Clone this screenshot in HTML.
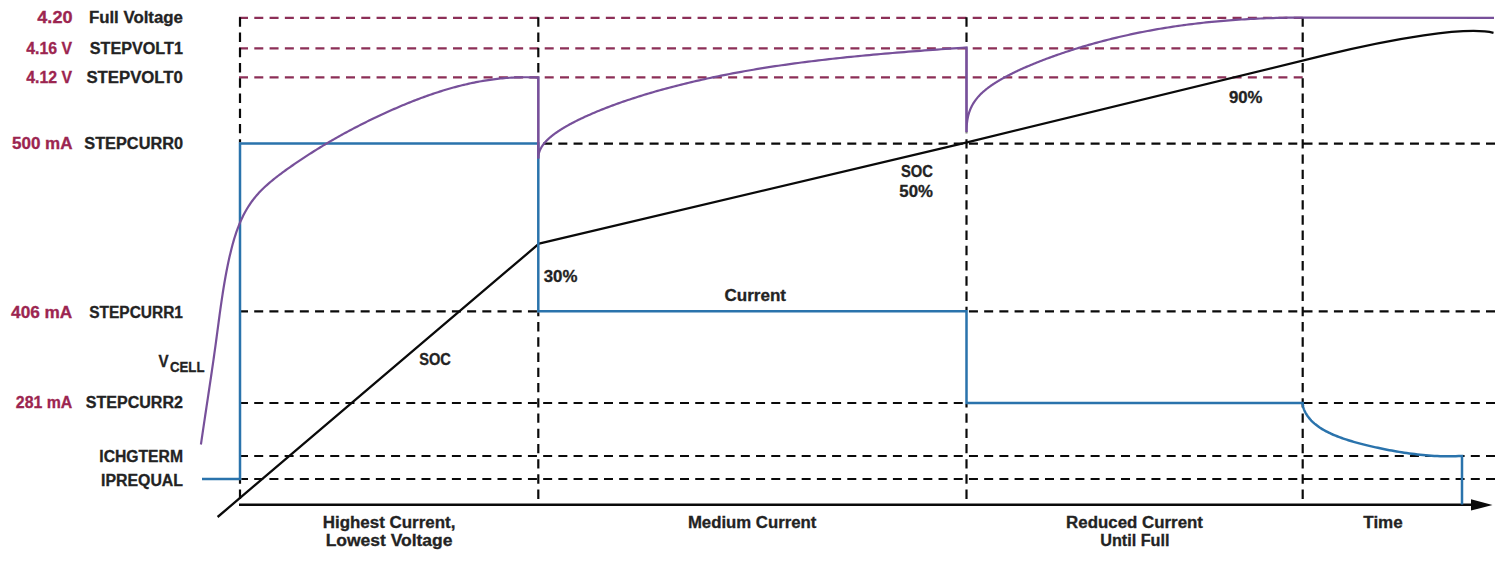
<!DOCTYPE html>
<html><head><meta charset="utf-8">
<style>
html,body{margin:0;padding:0;background:#fff;}
body{width:1506px;height:561px;overflow:hidden;}
svg{display:block;}
text{font-family:"Liberation Sans",sans-serif;font-weight:bold;}
</style></head><body>
<svg width="1506" height="561" viewBox="0 0 1506 561">
<rect width="1506" height="561" fill="#fff"/>
<path d="M239.00,17.8H248.00 M254.29,17.8H263.29 M269.57,17.8H278.57 M284.86,17.8H293.86 M300.14,17.8H309.14 M315.43,17.8H324.43 M330.71,17.8H339.71 M346.00,17.8H355.00 M361.28,17.8H370.28 M376.57,17.8H385.57 M391.86,17.8H400.86 M407.14,17.8H416.14 M422.43,17.8H431.43 M437.71,17.8H446.71 M453.00,17.8H462.00 M468.28,17.8H477.28 M483.57,17.8H492.57 M498.85,17.8H507.85 M514.14,17.8H523.14 M529.42,17.8H538.42 M544.71,17.8H553.71 M560.00,17.8H569.00 M575.28,17.8H584.28 M590.57,17.8H599.57 M605.85,17.8H614.85 M621.14,17.8H630.14 M636.42,17.8H645.42 M651.71,17.8H660.71 M666.99,17.8H675.99 M682.28,17.8H691.28 M697.57,17.8H706.57 M712.85,17.8H721.85 M728.14,17.8H737.14 M743.42,17.8H752.42 M758.71,17.8H767.71 M773.99,17.8H782.99 M789.28,17.8H798.28 M804.56,17.8H813.56 M819.85,17.8H828.85 M835.13,17.8H844.13 M850.42,17.8H859.42 M865.71,17.8H874.71 M880.99,17.8H889.99 M896.28,17.8H905.28 M911.56,17.8H920.56 M926.85,17.8H935.85 M942.13,17.8H951.13 M957.42,17.8H966.42 M972.70,17.8H981.70 M987.99,17.8H996.99 M1003.28,17.8H1012.28 M1018.56,17.8H1027.56 M1033.85,17.8H1042.85 M1049.13,17.8H1058.13 M1064.42,17.8H1073.42 M1079.70,17.8H1088.70 M1094.99,17.8H1103.99 M1110.27,17.8H1119.27 M1125.56,17.8H1134.56 M1140.84,17.8H1149.84 M1156.13,17.8H1165.13 M1171.42,17.8H1180.42 M1186.70,17.8H1195.70 M1201.99,17.8H1210.99 M1217.27,17.8H1226.27 M1232.56,17.8H1241.56 M1247.84,17.8H1256.84 M1263.13,17.8H1272.13 M1278.41,17.8H1287.41 M1293.70,17.8H1302.70 M239.00,48.3H248.00 M254.29,48.3H263.29 M269.57,48.3H278.57 M284.86,48.3H293.86 M300.14,48.3H309.14 M315.43,48.3H324.43 M330.71,48.3H339.71 M346.00,48.3H355.00 M361.28,48.3H370.28 M376.57,48.3H385.57 M391.86,48.3H400.86 M407.14,48.3H416.14 M422.43,48.3H431.43 M437.71,48.3H446.71 M453.00,48.3H462.00 M468.28,48.3H477.28 M483.57,48.3H492.57 M498.85,48.3H507.85 M514.14,48.3H523.14 M529.42,48.3H538.42 M544.71,48.3H553.71 M560.00,48.3H569.00 M575.28,48.3H584.28 M590.57,48.3H599.57 M605.85,48.3H614.85 M621.14,48.3H630.14 M636.42,48.3H645.42 M651.71,48.3H660.71 M666.99,48.3H675.99 M682.28,48.3H691.28 M697.57,48.3H706.57 M712.85,48.3H721.85 M728.14,48.3H737.14 M743.42,48.3H752.42 M758.71,48.3H767.71 M773.99,48.3H782.99 M789.28,48.3H798.28 M804.56,48.3H813.56 M819.85,48.3H828.85 M835.13,48.3H844.13 M850.42,48.3H859.42 M865.71,48.3H874.71 M880.99,48.3H889.99 M896.28,48.3H905.28 M911.56,48.3H920.56 M926.85,48.3H935.85 M942.13,48.3H951.13 M957.42,48.3H966.42 M972.70,48.3H981.70 M987.99,48.3H996.99 M1003.28,48.3H1012.28 M1018.56,48.3H1027.56 M1033.85,48.3H1042.85 M1049.13,48.3H1058.13 M1064.42,48.3H1073.42 M1079.70,48.3H1088.70 M1094.99,48.3H1103.99 M1110.27,48.3H1119.27 M1125.56,48.3H1134.56 M1140.84,48.3H1149.84 M1156.13,48.3H1165.13 M1171.42,48.3H1180.42 M1186.70,48.3H1195.70 M1201.99,48.3H1210.99 M1217.27,48.3H1226.27 M1232.56,48.3H1241.56 M1247.84,48.3H1256.84 M1263.13,48.3H1272.13 M1278.41,48.3H1287.41 M1293.70,48.3H1302.70 M239.00,77.4H248.00 M254.29,77.4H263.29 M269.57,77.4H278.57 M284.86,77.4H293.86 M300.14,77.4H309.14 M315.43,77.4H324.43 M330.71,77.4H339.71 M346.00,77.4H355.00 M361.28,77.4H370.28 M376.57,77.4H385.57 M391.86,77.4H400.86 M407.14,77.4H416.14 M422.43,77.4H431.43 M437.71,77.4H446.71 M453.00,77.4H462.00 M468.28,77.4H477.28 M483.57,77.4H492.57 M498.85,77.4H507.85 M514.14,77.4H523.14 M529.42,77.4H538.42 M544.71,77.4H553.71 M560.00,77.4H569.00 M575.28,77.4H584.28 M590.57,77.4H599.57 M605.85,77.4H614.85 M621.14,77.4H630.14 M636.42,77.4H645.42 M651.71,77.4H660.71 M666.99,77.4H675.99 M682.28,77.4H691.28 M697.57,77.4H706.57 M712.85,77.4H721.85 M728.14,77.4H737.14 M743.42,77.4H752.42 M758.71,77.4H767.71 M773.99,77.4H782.99 M789.28,77.4H798.28 M804.56,77.4H813.56 M819.85,77.4H828.85 M835.13,77.4H844.13 M850.42,77.4H859.42 M865.71,77.4H874.71 M880.99,77.4H889.99 M896.28,77.4H905.28 M911.56,77.4H920.56 M926.85,77.4H935.85 M942.13,77.4H951.13 M957.42,77.4H966.42 M972.70,77.4H981.70 M987.99,77.4H996.99 M1003.28,77.4H1012.28 M1018.56,77.4H1027.56 M1033.85,77.4H1042.85 M1049.13,77.4H1058.13 M1064.42,77.4H1073.42 M1079.70,77.4H1088.70 M1094.99,77.4H1103.99 M1110.27,77.4H1119.27 M1125.56,77.4H1134.56 M1140.84,77.4H1149.84 M1156.13,77.4H1165.13 M1171.42,77.4H1180.42 M1186.70,77.4H1195.70 M1201.99,77.4H1210.99 M1217.27,77.4H1226.27 M1232.56,77.4H1241.56 M1247.84,77.4H1256.84 M1263.13,77.4H1272.13 M1278.41,77.4H1287.41 M1293.70,77.4H1302.70" fill="none" stroke="#8C2F57" stroke-width="2.2"/>
<path d="M543.15,143.6H552.15 M558.35,143.6H567.35 M573.56,143.6H582.56 M588.77,143.6H597.77 M603.98,143.6H612.98 M619.18,143.6H628.18 M634.39,143.6H643.39 M649.60,143.6H658.60 M664.80,143.6H673.80 M680.01,143.6H689.01 M695.22,143.6H704.22 M710.43,143.6H719.43 M725.63,143.6H734.63 M740.84,143.6H749.84 M756.05,143.6H765.05 M771.26,143.6H780.26 M786.46,143.6H795.46 M801.67,143.6H810.67 M816.88,143.6H825.88 M832.09,143.6H841.09 M847.29,143.6H856.29 M862.50,143.6H871.50 M877.71,143.6H886.71 M892.91,143.6H901.91 M908.12,143.6H917.12 M923.33,143.6H932.33 M938.54,143.6H947.54 M953.74,143.6H962.74 M968.95,143.6H977.95 M984.16,143.6H993.16 M999.37,143.6H1008.37 M1014.57,143.6H1023.57 M1029.78,143.6H1038.78 M1044.99,143.6H1053.99 M1060.20,143.6H1069.20 M1075.40,143.6H1084.40 M1090.61,143.6H1099.61 M1105.82,143.6H1114.82 M1121.02,143.6H1130.02 M1136.23,143.6H1145.23 M1151.44,143.6H1160.44 M1166.65,143.6H1175.65 M1181.85,143.6H1190.85 M1197.06,143.6H1206.06 M1212.27,143.6H1221.27 M1227.48,143.6H1236.48 M1242.68,143.6H1251.68 M1257.89,143.6H1266.89 M1273.10,143.6H1282.10 M1288.30,143.6H1297.30 M1303.51,143.6H1312.51 M1318.72,143.6H1327.72 M1333.93,143.6H1342.93 M1349.13,143.6H1358.13 M1364.34,143.6H1373.34 M1379.55,143.6H1388.55 M1394.76,143.6H1403.76 M1409.96,143.6H1418.96 M1425.17,143.6H1434.17 M1440.38,143.6H1449.38 M1455.59,143.6H1464.59 M1470.79,143.6H1479.79 M1486.00,143.6H1495.00 M239.00,311.3H248.00 M254.21,311.3H263.21 M269.41,311.3H278.41 M284.62,311.3H293.62 M299.83,311.3H308.83 M315.04,311.3H324.04 M330.24,311.3H339.24 M345.45,311.3H354.45 M360.66,311.3H369.66 M375.87,311.3H384.87 M391.07,311.3H400.07 M406.28,311.3H415.28 M421.49,311.3H430.49 M436.70,311.3H445.70 M451.90,311.3H460.90 M467.11,311.3H476.11 M482.32,311.3H491.32 M497.52,311.3H506.52 M512.73,311.3H521.73 M527.94,311.3H536.94 M968.95,311.3H977.95 M984.16,311.3H993.16 M999.37,311.3H1008.37 M1014.57,311.3H1023.57 M1029.78,311.3H1038.78 M1044.99,311.3H1053.99 M1060.20,311.3H1069.20 M1075.40,311.3H1084.40 M1090.61,311.3H1099.61 M1105.82,311.3H1114.82 M1121.02,311.3H1130.02 M1136.23,311.3H1145.23 M1151.44,311.3H1160.44 M1166.65,311.3H1175.65 M1181.85,311.3H1190.85 M1197.06,311.3H1206.06 M1212.27,311.3H1221.27 M1227.48,311.3H1236.48 M1242.68,311.3H1251.68 M1257.89,311.3H1266.89 M1273.10,311.3H1282.10 M1288.30,311.3H1297.30 M1303.51,311.3H1312.51 M1318.72,311.3H1327.72 M1333.93,311.3H1342.93 M1349.13,311.3H1358.13 M1364.34,311.3H1373.34 M1379.55,311.3H1388.55 M1394.76,311.3H1403.76 M1409.96,311.3H1418.96 M1425.17,311.3H1434.17 M1440.38,311.3H1449.38 M1455.59,311.3H1464.59 M1470.79,311.3H1479.79 M1486.00,311.3H1495.00 M239.00,403H248.00 M254.21,403H263.21 M269.41,403H278.41 M284.62,403H293.62 M299.83,403H308.83 M315.04,403H324.04 M330.24,403H339.24 M345.45,403H354.45 M360.66,403H369.66 M375.87,403H384.87 M391.07,403H400.07 M406.28,403H415.28 M421.49,403H430.49 M436.70,403H445.70 M451.90,403H460.90 M467.11,403H476.11 M482.32,403H491.32 M497.52,403H506.52 M512.73,403H521.73 M527.94,403H536.94 M543.15,403H552.15 M558.35,403H567.35 M573.56,403H582.56 M588.77,403H597.77 M603.98,403H612.98 M619.18,403H628.18 M634.39,403H643.39 M649.60,403H658.60 M664.80,403H673.80 M680.01,403H689.01 M695.22,403H704.22 M710.43,403H719.43 M725.63,403H734.63 M740.84,403H749.84 M756.05,403H765.05 M771.26,403H780.26 M786.46,403H795.46 M801.67,403H810.67 M816.88,403H825.88 M832.09,403H841.09 M847.29,403H856.29 M862.50,403H871.50 M877.71,403H886.71 M892.91,403H901.91 M908.12,403H917.12 M923.33,403H932.33 M938.54,403H947.54 M953.74,403H962.74 M1303.51,403H1312.51 M1318.72,403H1327.72 M1333.93,403H1342.93 M1349.13,403H1358.13 M1364.34,403H1373.34 M1379.55,403H1388.55 M1394.76,403H1403.76 M1409.96,403H1418.96 M1425.17,403H1434.17 M1440.38,403H1449.38 M1455.59,403H1464.59 M1470.79,403H1479.79 M1486.00,403H1495.00 M239.00,456H248.00 M254.21,456H263.21 M269.41,456H278.41 M284.62,456H293.62 M299.83,456H308.83 M315.04,456H324.04 M330.24,456H339.24 M345.45,456H354.45 M360.66,456H369.66 M375.87,456H384.87 M391.07,456H400.07 M406.28,456H415.28 M421.49,456H430.49 M436.70,456H445.70 M451.90,456H460.90 M467.11,456H476.11 M482.32,456H491.32 M497.52,456H506.52 M512.73,456H521.73 M527.94,456H536.94 M543.15,456H552.15 M558.35,456H567.35 M573.56,456H582.56 M588.77,456H597.77 M603.98,456H612.98 M619.18,456H628.18 M634.39,456H643.39 M649.60,456H658.60 M664.80,456H673.80 M680.01,456H689.01 M695.22,456H704.22 M710.43,456H719.43 M725.63,456H734.63 M740.84,456H749.84 M756.05,456H765.05 M771.26,456H780.26 M786.46,456H795.46 M801.67,456H810.67 M816.88,456H825.88 M832.09,456H841.09 M847.29,456H856.29 M862.50,456H871.50 M877.71,456H886.71 M892.91,456H901.91 M908.12,456H917.12 M923.33,456H932.33 M938.54,456H947.54 M953.74,456H962.74 M968.95,456H977.95 M984.16,456H993.16 M999.37,456H1008.37 M1014.57,456H1023.57 M1029.78,456H1038.78 M1044.99,456H1053.99 M1060.20,456H1069.20 M1075.40,456H1084.40 M1090.61,456H1099.61 M1105.82,456H1114.82 M1121.02,456H1130.02 M1136.23,456H1145.23 M1151.44,456H1160.44 M1166.65,456H1175.65 M1181.85,456H1190.85 M1197.06,456H1206.06 M1212.27,456H1221.27 M1227.48,456H1236.48 M1242.68,456H1251.68 M1257.89,456H1266.89 M1273.10,456H1282.10 M1288.30,456H1297.30 M1303.51,456H1312.51 M1318.72,456H1327.72 M1333.93,456H1342.93 M1349.13,456H1358.13 M1364.34,456H1373.34 M1379.55,456H1388.55 M1394.76,456H1403.76 M1409.96,456H1418.96 M1425.17,456H1434.17 M1440.38,456H1449.38 M1455.59,456H1464.59 M1470.79,456H1479.79 M1486.00,456H1495.00 M241.30,479H248.00 M254.21,479H263.21 M269.41,479H278.41 M284.62,479H293.62 M299.83,479H308.83 M315.04,479H324.04 M330.24,479H339.24 M345.45,479H354.45 M360.66,479H369.66 M375.87,479H384.87 M391.07,479H400.07 M406.28,479H415.28 M421.49,479H430.49 M436.70,479H445.70 M451.90,479H460.90 M467.11,479H476.11 M482.32,479H491.32 M497.52,479H506.52 M512.73,479H521.73 M527.94,479H536.94 M543.15,479H552.15 M558.35,479H567.35 M573.56,479H582.56 M588.77,479H597.77 M603.98,479H612.98 M619.18,479H628.18 M634.39,479H643.39 M649.60,479H658.60 M664.80,479H673.80 M680.01,479H689.01 M695.22,479H704.22 M710.43,479H719.43 M725.63,479H734.63 M740.84,479H749.84 M756.05,479H765.05 M771.26,479H780.26 M786.46,479H795.46 M801.67,479H810.67 M816.88,479H825.88 M832.09,479H841.09 M847.29,479H856.29 M862.50,479H871.50 M877.71,479H886.71 M892.91,479H901.91 M908.12,479H917.12 M923.33,479H932.33 M938.54,479H947.54 M953.74,479H962.74 M968.95,479H977.95 M984.16,479H993.16 M999.37,479H1008.37 M1014.57,479H1023.57 M1029.78,479H1038.78 M1044.99,479H1053.99 M1060.20,479H1069.20 M1075.40,479H1084.40 M1090.61,479H1099.61 M1105.82,479H1114.82 M1121.02,479H1130.02 M1136.23,479H1145.23 M1151.44,479H1160.44 M1166.65,479H1175.65 M1181.85,479H1190.85 M1197.06,479H1206.06 M1212.27,479H1221.27 M1227.48,479H1236.48 M1242.68,479H1251.68 M1257.89,479H1266.89 M1273.10,479H1282.10 M1288.30,479H1297.30 M1303.51,479H1312.51 M1318.72,479H1327.72 M1333.93,479H1342.93 M1349.13,479H1358.13 M1364.34,479H1373.34 M1379.55,479H1388.55 M1394.76,479H1403.76 M1409.96,479H1418.96 M1425.17,479H1434.17 M1440.38,479H1449.38 M1455.59,479H1464.59 M1470.79,479H1479.79 M1486.00,479H1495.00 M240,17.30V26.70 M240,32.54V41.94 M240,47.77V57.17 M240,63.01V72.41 M240,78.24V87.64 M240,93.48V102.88 M240,108.71V118.11 M240,123.95V133.35 M240,139.18V142.50 M240,480.00V483.76 M240,489.60V499.00 M538.3,17.30V26.70 M538.3,32.54V41.94 M538.3,47.77V57.17 M538.3,63.01V72.41 M538.3,312.30V316.17 M538.3,322.01V331.41 M538.3,337.25V346.65 M538.3,352.48V361.88 M538.3,367.72V377.12 M538.3,382.95V392.35 M538.3,398.19V407.59 M538.3,413.42V422.82 M538.3,428.66V438.06 M538.3,443.89V453.29 M538.3,459.13V468.53 M538.3,474.36V483.76 M538.3,489.60V499.00 M966.5,17.30V26.70 M966.5,32.54V41.94 M966.5,132.50V133.35 M966.5,139.18V148.58 M966.5,154.42V163.82 M966.5,169.65V179.05 M966.5,184.89V194.29 M966.5,200.13V209.53 M966.5,215.36V224.76 M966.5,230.60V240.00 M966.5,245.83V255.23 M966.5,261.07V270.47 M966.5,276.30V285.70 M966.5,291.54V300.94 M966.5,306.77V310.30 M966.5,404.00V407.59 M966.5,413.42V422.82 M966.5,428.66V438.06 M966.5,443.89V453.29 M966.5,459.13V468.53 M966.5,474.36V483.76 M966.5,489.60V499.00 M1302.7,17.30V26.70 M1302.7,32.54V41.94 M1302.7,47.77V57.17 M1302.7,63.01V72.41 M1302.7,78.24V87.64 M1302.7,93.48V102.88 M1302.7,108.71V118.11 M1302.7,123.95V133.35 M1302.7,139.18V148.58 M1302.7,154.42V163.82 M1302.7,169.65V179.05 M1302.7,184.89V194.29 M1302.7,200.13V209.53 M1302.7,215.36V224.76 M1302.7,230.60V240.00 M1302.7,245.83V255.23 M1302.7,261.07V270.47 M1302.7,276.30V285.70 M1302.7,291.54V300.94 M1302.7,306.77V316.17 M1302.7,322.01V331.41 M1302.7,337.25V346.65 M1302.7,352.48V361.88 M1302.7,367.72V377.12 M1302.7,382.95V392.35 M1302.7,398.19V407.59 M1302.7,413.42V422.82 M1302.7,428.66V438.06 M1302.7,443.89V453.29 M1302.7,459.13V468.53 M1302.7,474.36V483.76 M1302.7,489.60V499.00" fill="none" stroke="#0A0A0A" stroke-width="2.2"/>
<path d="M239,504.8 H1474" fill="none" stroke="#0A0A0A" stroke-width="2.4"/>
<polygon points="1471,499.2 1492.5,505 1471,510.6" fill="#0A0A0A"/>
<path d="M217.6,517 L539,243.7 L966,142.6 L1325.00,55.18 C1390.85,39.15 1466.17,25.93 1493.50,32.80" fill="none" stroke="#0A0A0A" stroke-width="2.3" stroke-linejoin="round"/>
<path d="M202,479 L240,479 L240,143.6 L538.3,143.6 L538.3,311.3 L966.5,311.3 L966.5,403 L1302.70,403.00 1302.72,403.62 1302.77,404.26 1302.85,404.93 1302.96,405.62 1303.11,406.33 1303.29,407.06 1303.50,407.81 1303.74,408.57 1304.02,409.34 1304.33,410.12 1304.67,410.91 1305.04,411.71 1305.45,412.51 1305.89,413.32 1306.36,414.12 1306.86,414.93 1307.40,415.74 1307.97,416.55 1308.57,417.35 1309.20,418.15 1309.87,418.94 1310.57,419.73 1311.30,420.52 1312.06,421.30 1312.86,422.07 1313.69,422.83 1314.55,423.59 1315.44,424.34 1316.37,425.08 1317.33,425.81 1318.32,426.53 1319.34,427.24 1320.40,427.94 1321.49,428.64 1322.61,429.32 1323.76,430.00 1324.95,430.67 1326.17,431.32 1327.42,431.97 1328.71,432.61 1330.02,433.24 1331.37,433.86 1332.75,434.48 1334.17,435.08 1335.61,435.68 1337.09,436.27 1338.60,436.86 1340.15,437.43 1341.72,438.00 1343.33,438.57 1344.98,439.12 1346.65,439.67 1348.36,440.22 1350.10,440.76 1351.87,441.30 1353.67,441.83 1355.51,442.35 1357.38,442.87 1359.28,443.39 1361.21,443.90 1363.18,444.41 1365.18,444.91 1367.21,445.41 1369.27,445.91 1371.37,446.40 1373.50,446.88 1375.66,447.37 1377.86,447.84 1380.08,448.32 1382.34,448.78 1384.63,449.25 1386.96,449.70 1389.31,450.15 1391.70,450.59 1394.13,451.03 1396.58,451.45 1399.07,451.87 1401.59,452.27 1404.14,452.67 1406.72,453.05 1409.34,453.42 1411.99,453.77 1414.67,454.11 1417.38,454.43 1420.13,454.74 1422.91,455.02 1425.72,455.28 1428.57,455.52 1431.44,455.73 1434.35,455.91 1437.29,456.07 1440.27,456.19 1443.28,456.28 1446.32,456.33 1449.39,456.34 1452.49,456.31 1455.63,456.23 1458.80,456.11 1462.00,456.00 L1462,456 L1462,504.5" fill="none" stroke="#2A73AC" stroke-width="2.5" stroke-linejoin="miter"/>
<path d="M200.90,444.50 201.19,442.68 201.45,440.93 201.70,439.17 201.96,437.42 202.22,435.66 202.48,433.90 202.74,432.15 202.99,430.39 203.26,428.63 203.52,426.86 203.78,425.10 204.04,423.34 204.30,421.58 204.57,419.81 204.83,418.05 205.10,416.28 205.36,414.52 205.63,412.75 205.89,410.98 206.16,409.21 206.43,407.44 206.69,405.67 206.96,403.90 207.23,402.13 207.49,400.36 207.76,398.59 208.02,396.82 208.29,395.05 208.56,393.27 208.82,391.50 209.09,389.73 209.35,387.95 209.62,386.18 209.88,384.41 210.15,382.63 210.41,380.86 210.68,379.08 210.94,377.31 211.20,375.53 211.46,373.75 211.72,371.98 211.98,370.20 212.24,368.43 212.50,366.65 212.76,364.87 213.01,363.10 213.27,361.32 213.52,359.55 213.78,357.77 214.03,355.99 214.28,354.22 214.53,352.44 214.78,350.67 215.03,348.89 215.27,347.11 215.52,345.34 215.76,343.56 216.00,341.79 216.24,340.02 216.48,338.24 216.72,336.47 216.95,334.69 217.19,332.92 217.42,331.15 217.66,329.38 217.90,327.60 218.13,325.83 218.37,324.06 218.60,322.29 218.84,320.52 219.08,318.75 219.32,316.98 219.56,315.21 219.80,313.45 220.04,311.68 220.29,309.91 220.53,308.15 220.78,306.38 221.04,304.62 221.29,302.86 221.55,301.09 221.81,299.33 222.07,297.57 222.34,295.81 222.61,294.05 222.88,292.29 223.16,290.53 223.44,288.78 223.73,287.02 224.02,285.27 224.31,283.51 224.61,281.76 224.92,280.01 225.23,278.26 225.54,276.51 225.86,274.76 226.19,273.01 226.52,271.27 226.86,269.52 227.21,267.78 227.56,266.04 227.92,264.29 228.28,262.55 228.66,260.82 229.04,259.08 229.42,257.34 229.82,255.61 230.22,253.88 230.64,252.15 231.06,250.42 231.49,248.69 231.94,246.97 232.39,245.26 232.86,243.55 233.34,241.84 233.83,240.14 234.34,238.44 234.86,236.76 235.40,235.07 235.95,233.40 236.52,231.73 237.11,230.08 237.72,228.43 238.34,226.79 238.98,225.16 239.64,223.53 240.33,221.92 241.03,220.33 241.75,218.74 242.50,217.16 243.27,215.60 244.06,214.05 244.88,212.51 245.72,210.99 246.58,209.48 247.48,207.98 248.39,206.50 249.34,205.03 250.31,203.58 251.31,202.15 252.34,200.74 253.40,199.34 254.49,197.96 255.61,196.59 256.76,195.25 257.94,193.92 259.14,192.61 260.38,191.31 261.63,190.03 262.91,188.77 264.21,187.52 265.53,186.28 266.88,185.06 268.24,183.85 269.62,182.66 271.01,181.48 272.42,180.31 273.85,179.15 275.29,178.01 276.74,176.87 278.20,175.75 279.67,174.63 281.14,173.53 282.63,172.43 284.12,171.34 285.62,170.26 287.12,169.19 288.62,168.13 290.12,167.07 291.63,166.02 293.13,164.98 294.64,163.94 296.14,162.91 297.65,161.89 299.16,160.87 300.67,159.86 302.18,158.85 303.69,157.85 305.20,156.86 306.71,155.87 308.23,154.89 309.74,153.92 311.26,152.95 312.77,151.99 314.29,151.03 315.81,150.08 317.33,149.14 318.86,148.20 320.38,147.26 321.91,146.33 323.43,145.41 324.96,144.50 326.49,143.58 328.02,142.68 329.56,141.78 331.09,140.88 332.63,139.99 334.17,139.11 335.71,138.23 337.25,137.35 338.80,136.48 340.34,135.62 341.89,134.76 343.44,133.90 344.99,133.06 346.55,132.21 348.11,131.37 349.66,130.53 351.23,129.70 352.79,128.88 354.36,128.06 355.92,127.24 357.50,126.43 359.07,125.62 360.64,124.81 362.22,124.02 363.80,123.22 365.39,122.43 366.97,121.64 368.56,120.86 370.16,120.08 371.75,119.31 373.35,118.54 374.95,117.77 376.55,117.01 378.16,116.25 379.77,115.49 381.38,114.74 383.00,113.99 384.62,113.25 386.24,112.51 387.86,111.77 389.49,111.04 391.12,110.31 392.76,109.59 394.39,108.87 396.03,108.15 397.68,107.44 399.32,106.74 400.97,106.04 402.62,105.35 404.28,104.66 405.93,103.97 407.59,103.29 409.25,102.62 410.92,101.96 412.59,101.30 414.26,100.64 415.93,99.99 417.61,99.35 419.29,98.72 420.97,98.09 422.65,97.46 424.34,96.85 426.03,96.24 427.72,95.64 429.41,95.05 431.11,94.46 432.81,93.88 434.51,93.31 436.21,92.74 437.92,92.19 439.63,91.64 441.34,91.10 443.05,90.57 444.77,90.05 446.48,89.53 448.20,89.02 449.92,88.53 451.65,88.04 453.37,87.56 455.10,87.09 456.83,86.63 458.57,86.18 460.30,85.73 462.04,85.30 463.78,84.88 465.52,84.47 467.26,84.06 469.00,83.67 470.75,83.29 472.50,82.92 474.25,82.56 476.00,82.20 477.76,81.86 479.51,81.54 481.27,81.22 483.03,80.91 484.79,80.62 486.56,80.33 488.32,80.06 490.09,79.80 491.86,79.55 493.63,79.31 495.40,79.09 497.17,78.88 498.94,78.68 500.72,78.49 502.50,78.31 504.28,78.15 506.06,78.00 507.84,77.87 509.62,77.74 511.41,77.63 513.20,77.54 514.98,77.45 516.77,77.38 518.56,77.33 520.36,77.28 522.15,77.26 523.94,77.24 525.74,77.24 527.54,77.26 529.33,77.29 531.13,77.33 532.93,77.39 534.74,77.46 536.54,77.55 538.30,77.50 L538.3,158.4 L538.30,158.40 538.31,157.71 538.34,157.02 538.40,156.34 538.47,155.67 538.57,155.00 538.69,154.33 538.83,153.67 538.99,153.02 539.18,152.37 539.38,151.72 539.61,151.08 539.86,150.44 540.13,149.80 540.42,149.16 540.73,148.53 541.07,147.90 541.42,147.28 541.80,146.65 542.20,146.03 542.63,145.41 543.07,144.79 543.53,144.17 544.02,143.56 544.53,142.94 545.06,142.33 545.61,141.71 546.18,141.10 546.78,140.48 547.39,139.87 548.03,139.26 548.69,138.64 549.37,138.03 550.08,137.42 550.80,136.80 551.55,136.19 552.31,135.57 553.10,134.96 553.91,134.34 554.75,133.72 555.60,133.10 556.48,132.49 557.37,131.87 558.29,131.24 559.23,130.62 560.20,130.00 561.18,129.37 562.19,128.75 563.21,128.12 564.26,127.49 565.33,126.86 566.42,126.23 567.54,125.60 568.67,124.96 569.83,124.33 571.01,123.69 572.21,123.05 573.43,122.41 574.67,121.77 575.94,121.13 577.23,120.48 578.53,119.84 579.86,119.19 581.22,118.55 582.59,117.90 583.98,117.25 585.40,116.59 586.84,115.94 588.30,115.29 589.78,114.63 591.28,113.98 592.81,113.32 594.35,112.66 595.92,112.00 597.51,111.34 599.12,110.68 600.76,110.02 602.41,109.36 604.09,108.70 605.78,108.04 607.50,107.37 609.24,106.71 611.01,106.05 612.79,105.38 614.60,104.72 616.42,104.06 618.27,103.39 620.14,102.73 622.03,102.07 623.95,101.40 625.88,100.74 627.84,100.08 629.82,99.42 631.82,98.76 633.84,98.10 635.89,97.44 637.95,96.78 640.04,96.12 642.15,95.47 644.28,94.81 646.43,94.16 648.60,93.51 650.80,92.86 653.01,92.21 655.25,91.56 657.51,90.92 659.79,90.27 662.10,89.63 664.42,88.99 666.77,88.36 669.14,87.72 671.53,87.09 673.94,86.46 676.37,85.83 678.82,85.21 681.30,84.59 683.80,83.97 686.32,83.35 688.86,82.74 691.42,82.13 694.01,81.53 696.61,80.93 699.24,80.33 701.89,79.73 704.56,79.14 707.25,78.55 709.96,77.97 712.70,77.39 715.46,76.81 718.24,76.24 721.04,75.67 723.86,75.11 726.70,74.55 729.57,73.99 732.46,73.44 735.36,72.89 738.29,72.35 741.25,71.81 744.22,71.28 747.22,70.75 750.23,70.23 753.27,69.71 756.33,69.19 759.41,68.69 762.52,68.18 765.64,67.68 768.79,67.19 771.96,66.70 775.14,66.21 778.36,65.73 781.59,65.26 784.84,64.79 788.12,64.33 791.42,63.87 794.74,63.41 798.08,62.97 801.44,62.52 804.83,62.08 808.23,61.65 811.66,61.22 815.11,60.80 818.58,60.38 822.07,59.97 825.59,59.56 829.12,59.16 832.68,58.76 836.26,58.36 839.86,57.98 843.48,57.59 847.13,57.21 850.79,56.84 854.48,56.47 858.19,56.10 861.92,55.74 865.67,55.38 869.44,55.03 873.24,54.68 877.06,54.34 880.89,54.00 884.75,53.66 888.64,53.33 892.54,53.00 896.47,52.67 900.41,52.35 904.38,52.03 908.37,51.71 912.38,51.40 916.41,51.08 920.47,50.78 924.55,50.47 928.64,50.16 932.76,49.86 936.91,49.56 941.07,49.26 945.25,48.96 949.46,48.66 953.69,48.37 957.94,48.07 962.21,47.77 966.50,47.48 L966.5,132 L966.50,132.00 966.51,130.70 966.53,129.43 966.58,128.19 966.64,126.97 966.71,125.77 966.81,124.60 966.92,123.46 967.04,122.33 967.19,121.23 967.35,120.15 967.53,119.09 967.72,118.05 967.93,117.03 968.16,116.03 968.41,115.05 968.67,114.08 968.95,113.13 969.25,112.20 969.56,111.28 969.90,110.38 970.24,109.49 970.61,108.62 970.99,107.76 971.39,106.92 971.81,106.08 972.24,105.26 972.69,104.45 973.16,103.65 973.64,102.87 974.14,102.09 974.66,101.32 975.19,100.56 975.75,99.81 976.31,99.07 976.90,98.34 977.50,97.61 978.12,96.90 978.76,96.18 979.41,95.48 980.08,94.78 980.77,94.09 981.48,93.41 982.20,92.73 982.94,92.05 983.69,91.38 984.46,90.72 985.25,90.05 986.06,89.40 986.88,88.74 987.72,88.09 988.58,87.45 989.46,86.80 990.35,86.16 991.26,85.52 992.18,84.89 993.12,84.25 994.08,83.62 995.06,82.99 996.05,82.36 997.06,81.74 998.09,81.11 999.13,80.49 1000.20,79.87 1001.27,79.24 1002.37,78.62 1003.48,78.00 1004.61,77.38 1005.76,76.77 1006.92,76.15 1008.10,75.53 1009.30,74.91 1010.51,74.29 1011.74,73.68 1012.99,73.06 1014.25,72.44 1015.54,71.83 1016.84,71.21 1018.15,70.59 1019.48,69.97 1020.83,69.36 1022.20,68.74 1023.58,68.12 1024.99,67.50 1026.40,66.88 1027.84,66.27 1029.29,65.65 1030.76,65.03 1032.24,64.41 1033.75,63.79 1035.27,63.17 1036.80,62.55 1038.36,61.93 1039.93,61.32 1041.51,60.70 1043.12,60.08 1044.74,59.46 1046.38,58.84 1048.03,58.22 1049.71,57.61 1051.40,56.99 1053.10,56.37 1054.83,55.76 1056.57,55.14 1058.32,54.53 1060.10,53.92 1061.89,53.31 1063.70,52.69 1065.52,52.08 1067.37,51.48 1069.23,50.87 1071.10,50.26 1072.99,49.66 1074.90,49.06 1076.83,48.46 1078.78,47.86 1080.74,47.26 1082.72,46.67 1084.71,46.08 1086.72,45.49 1088.75,44.90 1090.80,44.32 1092.86,43.74 1094.94,43.16 1097.04,42.59 1099.15,42.02 1101.28,41.45 1103.43,40.88 1105.59,40.32 1107.78,39.77 1109.98,39.21 1112.19,38.66 1114.42,38.12 1116.67,37.58 1118.94,37.04 1121.22,36.51 1123.53,35.98 1125.84,35.46 1128.18,34.95 1130.53,34.43 1132.90,33.93 1135.28,33.43 1137.69,32.93 1140.11,32.44 1142.54,31.96 1145.00,31.48 1147.47,31.01 1149.95,30.55 1152.46,30.09 1154.98,29.64 1157.52,29.19 1160.07,28.75 1162.65,28.32 1165.24,27.90 1167.84,27.48 1170.46,27.07 1173.10,26.67 1175.76,26.27 1178.44,25.89 1181.13,25.51 1183.84,25.13 1186.56,24.77 1189.30,24.41 1192.06,24.07 1194.84,23.73 1197.63,23.40 1200.44,23.07 1203.27,22.76 1206.11,22.45 1208.97,22.16 1211.85,21.87 1214.75,21.59 1217.66,21.32 1220.59,21.06 1223.53,20.81 1226.50,20.56 1229.48,20.33 1232.47,20.10 1235.49,19.89 1238.52,19.68 1241.57,19.49 1244.63,19.30 1247.71,19.12 1250.81,18.95 1253.93,18.79 1257.06,18.64 1260.21,18.50 1263.38,18.37 1266.56,18.25 1269.76,18.14 1272.98,18.03 1276.21,17.94 1279.46,17.86 1282.73,17.78 1286.02,17.72 1289.32,17.66 1292.64,17.61 1295.98,17.58 1299.33,17.55 1302.70,17.53 L1494,17.8" fill="none" stroke="#77509A" stroke-width="2.2" stroke-linejoin="miter"/>
<path d="M538.3,76.4 V158.4 M966.5,47.2 V132" fill="none" stroke="#77509A" stroke-width="2.2"/>
<text x="37.3" y="23.0" font-size="16" fill="#9C2550" stroke="#9C2550" stroke-width="0.3" textLength="35.2" lengthAdjust="spacingAndGlyphs">4.20</text>
<text x="88.9" y="23.0" font-size="16" fill="#232323" stroke="#232323" stroke-width="0.3" textLength="94.0" lengthAdjust="spacingAndGlyphs">Full Voltage</text>
<text x="26.2" y="53.9" font-size="16" fill="#9C2550" stroke="#9C2550" stroke-width="0.3" textLength="45.8" lengthAdjust="spacingAndGlyphs">4.16 V</text>
<text x="89.8" y="53.9" font-size="16" fill="#232323" stroke="#232323" stroke-width="0.3" textLength="93.1" lengthAdjust="spacingAndGlyphs">STEPVOLT1</text>
<text x="26.2" y="83.0" font-size="16" fill="#9C2550" stroke="#9C2550" stroke-width="0.3" textLength="45.8" lengthAdjust="spacingAndGlyphs">4.12 V</text>
<text x="86.4" y="83.0" font-size="16" fill="#232323" stroke="#232323" stroke-width="0.3" textLength="96.5" lengthAdjust="spacingAndGlyphs">STEPVOLT0</text>
<text x="12.0" y="149.0" font-size="16" fill="#9C2550" stroke="#9C2550" stroke-width="0.3" textLength="60.5" lengthAdjust="spacingAndGlyphs">500 mA</text>
<text x="84.3" y="149.0" font-size="16" fill="#232323" stroke="#232323" stroke-width="0.3" textLength="98.7" lengthAdjust="spacingAndGlyphs">STEPCURR0</text>
<text x="11.1" y="317.8" font-size="16" fill="#9C2550" stroke="#9C2550" stroke-width="0.3" textLength="61.2" lengthAdjust="spacingAndGlyphs">406 mA</text>
<text x="89.2" y="317.8" font-size="16" fill="#232323" stroke="#232323" stroke-width="0.3" textLength="93.8" lengthAdjust="spacingAndGlyphs">STEPCURR1</text>
<text x="15.8" y="408.2" font-size="16" fill="#9C2550" stroke="#9C2550" stroke-width="0.3" textLength="56.5" lengthAdjust="spacingAndGlyphs">281 mA</text>
<text x="85.7" y="408.2" font-size="16" fill="#232323" stroke="#232323" stroke-width="0.3" textLength="97.3" lengthAdjust="spacingAndGlyphs">STEPCURR2</text>
<text x="99.3" y="462.2" font-size="16" fill="#232323" stroke="#232323" stroke-width="0.3" textLength="83.7" lengthAdjust="spacingAndGlyphs">ICHGTERM</text>
<text x="101.0" y="485.8" font-size="16" fill="#232323" stroke="#232323" stroke-width="0.3" textLength="82.0" lengthAdjust="spacingAndGlyphs">IPREQUAL</text>
<text x="158.4" y="366.7" font-size="16" fill="#232323" stroke="#232323" stroke-width="0.3" textLength="10.1" lengthAdjust="spacingAndGlyphs">V</text>
<text x="170.0" y="371.7" font-size="14" fill="#232323" stroke="#232323" stroke-width="0.3" textLength="34.5" lengthAdjust="spacingAndGlyphs">CELL</text>
<text x="419.2" y="365.1" font-size="16" fill="#232323" stroke="#232323" stroke-width="0.3" textLength="31.7" lengthAdjust="spacingAndGlyphs">SOC</text>
<text x="543.7" y="281.8" font-size="16" fill="#232323" stroke="#232323" stroke-width="0.3" textLength="33.7" lengthAdjust="spacingAndGlyphs">30%</text>
<text x="724.5" y="301.4" font-size="16" fill="#232323" stroke="#232323" stroke-width="0.3" textLength="61.5" lengthAdjust="spacingAndGlyphs">Current</text>
<text x="900.9" y="176.7" font-size="16" fill="#232323" stroke="#232323" stroke-width="0.3" textLength="32.0" lengthAdjust="spacingAndGlyphs">SOC</text>
<text x="899.3" y="196.5" font-size="16" fill="#232323" stroke="#232323" stroke-width="0.3" textLength="33.6" lengthAdjust="spacingAndGlyphs">50%</text>
<text x="1228.9" y="102.6" font-size="16" fill="#232323" stroke="#232323" stroke-width="0.3" textLength="33.5" lengthAdjust="spacingAndGlyphs">90%</text>
<text x="322.7" y="527.7" font-size="16" fill="#232323" stroke="#232323" stroke-width="0.3" textLength="132.7" lengthAdjust="spacingAndGlyphs">Highest Current,</text>
<text x="325.7" y="546.2" font-size="16" fill="#232323" stroke="#232323" stroke-width="0.3" textLength="126.7" lengthAdjust="spacingAndGlyphs">Lowest Voltage</text>
<text x="687.9" y="527.7" font-size="16" fill="#232323" stroke="#232323" stroke-width="0.3" textLength="128.5" lengthAdjust="spacingAndGlyphs">Medium Current</text>
<text x="1066.1" y="527.7" font-size="16" fill="#232323" stroke="#232323" stroke-width="0.3" textLength="136.9" lengthAdjust="spacingAndGlyphs">Reduced Current</text>
<text x="1100.2" y="545.6" font-size="16" fill="#232323" stroke="#232323" stroke-width="0.3" textLength="69.3" lengthAdjust="spacingAndGlyphs">Until Full</text>
<text x="1363.3" y="527.6" font-size="16" fill="#232323" stroke="#232323" stroke-width="0.3" textLength="39.4" lengthAdjust="spacingAndGlyphs">Time</text>
</svg>
</body></html>
